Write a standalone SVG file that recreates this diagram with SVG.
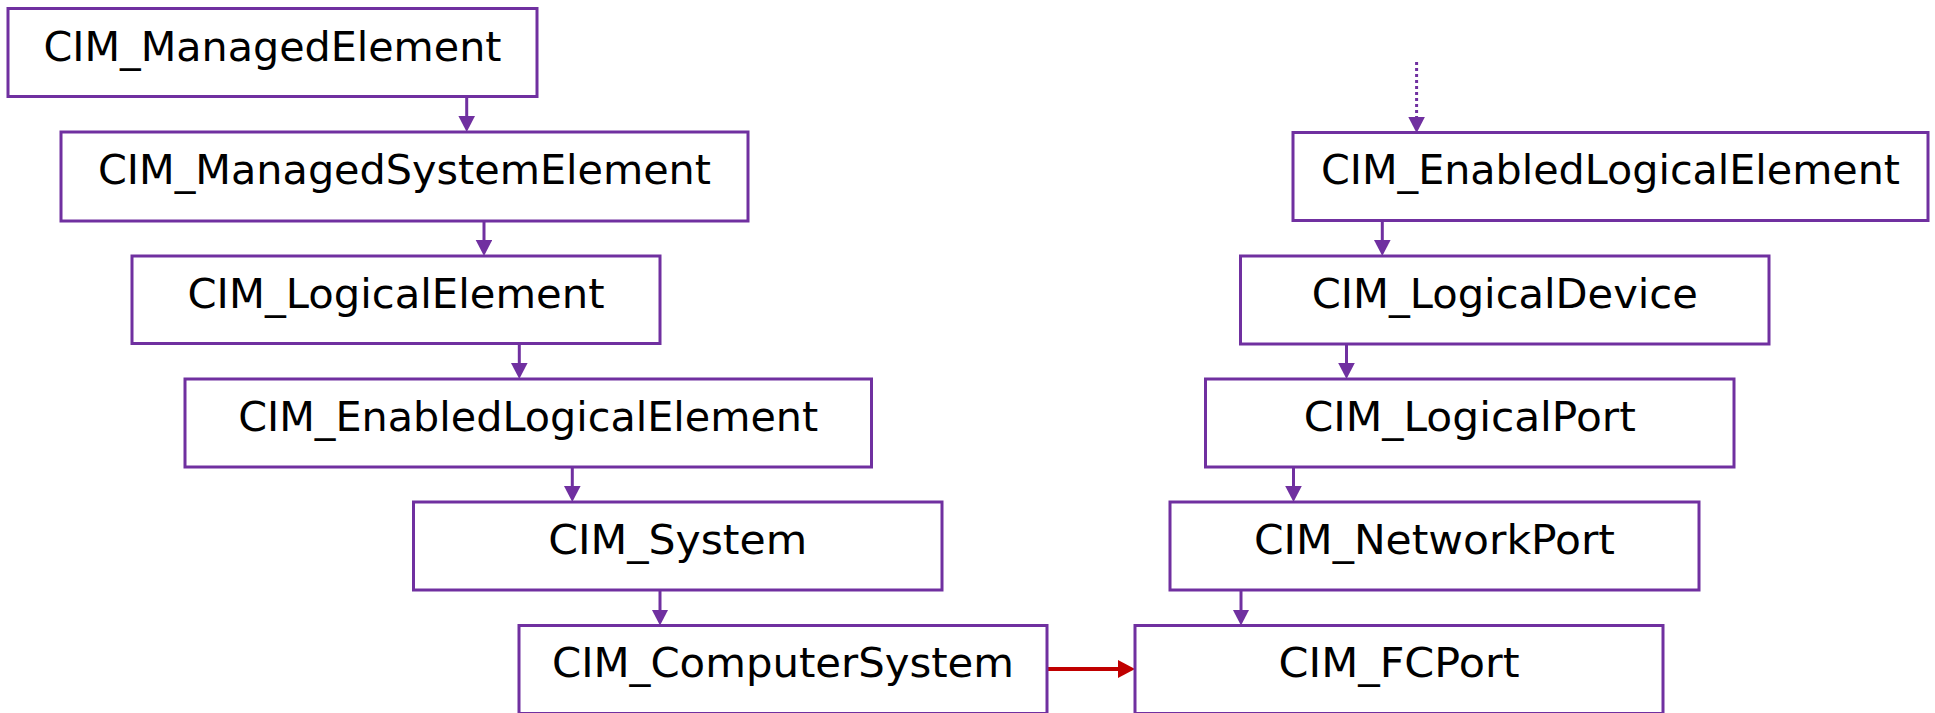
<svg xmlns="http://www.w3.org/2000/svg" width="1935" height="713" viewBox="0 0 1935 713">
<style>
.box{fill:#fff;stroke:#7030A0;stroke-width:3}
.lbl{font-family:"DejaVu Sans","Liberation Sans",sans-serif;font-size:40px;fill:#000;text-anchor:middle}
.c{stroke:#7030A0;stroke-width:3;fill:none}
.dot{stroke:#7030A0;stroke-width:3;fill:none;stroke-dasharray:3 3}
.red{stroke:#C00000;stroke-width:4;fill:none}
</style>
<defs>
<marker id="ah" markerUnits="userSpaceOnUse" markerWidth="16" markerHeight="17" refX="4" refY="8.3" orient="auto">
<path d="M0,0 L16,8.3 L0,16.6 z" fill="#7030A0"/>
</marker>
<marker id="ahr" markerUnits="userSpaceOnUse" markerWidth="17" markerHeight="18" refX="4" refY="9" orient="auto">
<path d="M0,0 L17,9 L0,18 z" fill="#C00000"/>
</marker>
</defs>
<rect width="1935" height="713" fill="#fff"/>
<g id="connectors">
<line class="c" x1="466.7" y1="96.5" x2="466.7" y2="120" marker-end="url(#ah)"/>
<line class="c" x1="484" y1="221" x2="484" y2="244" marker-end="url(#ah)"/>
<line class="c" x1="519.3" y1="343.5" x2="519.3" y2="367" marker-end="url(#ah)"/>
<line class="c" x1="572.3" y1="467" x2="572.3" y2="490" marker-end="url(#ah)"/>
<line class="c" x1="660" y1="590" x2="660" y2="613.5" marker-end="url(#ah)"/>
<line class="dot" x1="1416.6" y1="62" x2="1416.6" y2="121" marker-end="url(#ah)"/>
<line class="c" x1="1382.3" y1="220.5" x2="1382.3" y2="244" marker-end="url(#ah)"/>
<line class="c" x1="1346.5" y1="344" x2="1346.5" y2="367" marker-end="url(#ah)"/>
<line class="c" x1="1293.5" y1="467" x2="1293.5" y2="490" marker-end="url(#ah)"/>
<line class="c" x1="1241" y1="590" x2="1241" y2="613.5" marker-end="url(#ah)"/>
<line class="red" x1="1047" y1="669" x2="1122" y2="669" marker-end="url(#ahr)"/>
</g>
<g id="ManagedElement">
<rect class="box" x="8" y="8.5" width="529" height="88"/>
<text class="lbl" x="272.5" y="60.5" textLength="458" lengthAdjust="spacingAndGlyphs">CIM_ManagedElement</text>
</g>
<g id="ManagedSystemElement">
<rect class="box" x="61" y="132" width="687" height="89"/>
<text class="lbl" x="404.5" y="184" textLength="613" lengthAdjust="spacingAndGlyphs">CIM_ManagedSystemElement</text>
</g>
<g id="LogicalElement">
<rect class="box" x="132" y="256" width="528" height="87.5"/>
<text class="lbl" x="396" y="307.5" textLength="417" lengthAdjust="spacingAndGlyphs">CIM_LogicalElement</text>
</g>
<g id="EnabledLogicalElementL">
<rect class="box" x="185" y="379" width="686.5" height="88"/>
<text class="lbl" x="528.2" y="430.5" textLength="580" lengthAdjust="spacingAndGlyphs">CIM_EnabledLogicalElement</text>
</g>
<g id="System">
<rect class="box" x="413.5" y="502" width="528.5" height="88"/>
<text class="lbl" x="677.7" y="553.5" textLength="259" lengthAdjust="spacingAndGlyphs">CIM_System</text>
</g>
<g id="ComputerSystem">
<rect class="box" x="519" y="625.5" width="528" height="88"/>
<text class="lbl" x="783" y="677" textLength="462" lengthAdjust="spacingAndGlyphs">CIM_ComputerSystem</text>
</g>
<g id="EnabledLogicalElementR">
<rect class="box" x="1293" y="132.5" width="635" height="88"/>
<text class="lbl" x="1610.5" y="184" textLength="579" lengthAdjust="spacingAndGlyphs">CIM_EnabledLogicalElement</text>
</g>
<g id="LogicalDevice">
<rect class="box" x="1240.5" y="256" width="528.5" height="88"/>
<text class="lbl" x="1504.8" y="307.5" textLength="386" lengthAdjust="spacingAndGlyphs">CIM_LogicalDevice</text>
</g>
<g id="LogicalPort">
<rect class="box" x="1205.5" y="379" width="528.5" height="88"/>
<text class="lbl" x="1469.8" y="430.5" textLength="332" lengthAdjust="spacingAndGlyphs">CIM_LogicalPort</text>
</g>
<g id="NetworkPort">
<rect class="box" x="1170" y="502" width="529" height="88"/>
<text class="lbl" x="1434.5" y="553.5" textLength="361" lengthAdjust="spacingAndGlyphs">CIM_NetworkPort</text>
</g>
<g id="FCPort">
<rect class="box" x="1135" y="625.5" width="528" height="88"/>
<text class="lbl" x="1399" y="677" textLength="241" lengthAdjust="spacingAndGlyphs">CIM_FCPort</text>
</g>
</svg>
